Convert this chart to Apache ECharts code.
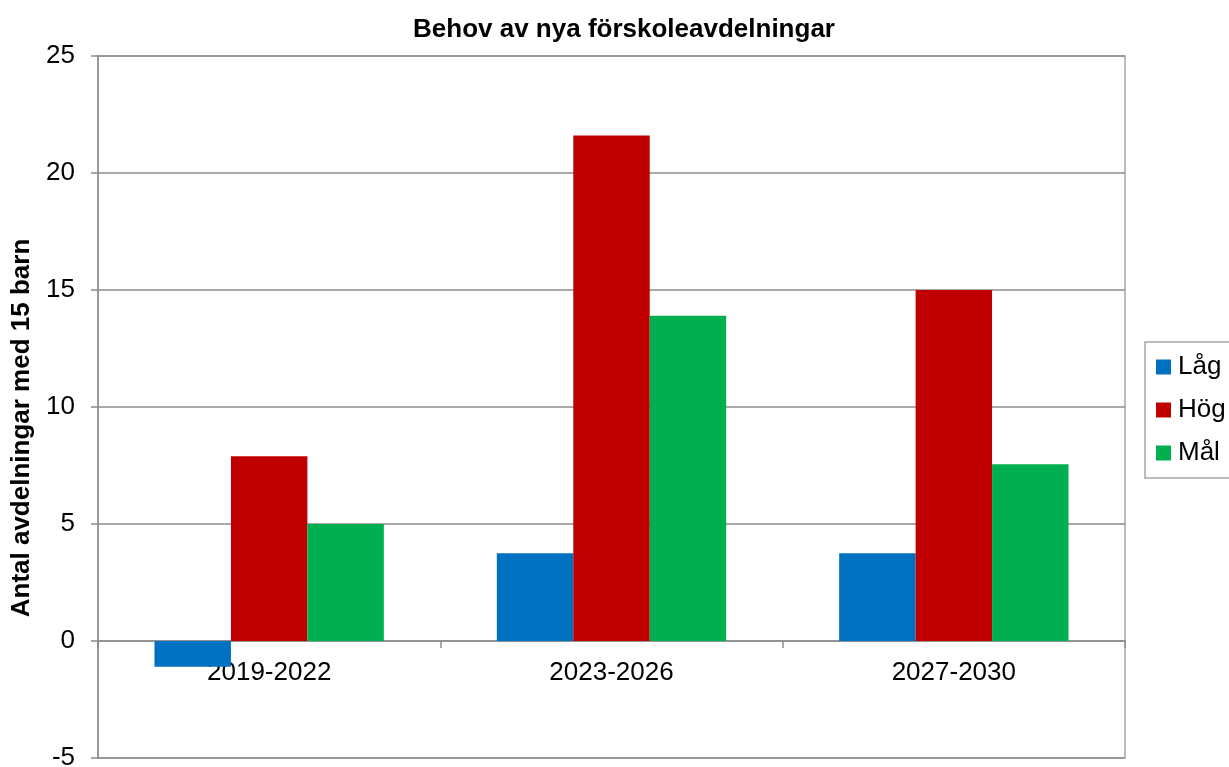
<!DOCTYPE html>
<html><head><meta charset="utf-8">
<script src="https://cdn.jsdelivr.net/npm/echarts@6/dist/echarts.min.js"></script>
<style>html,body{margin:0;padding:0;background:#fff}#c{width:1229px;height:767px}</style>
</head><body><div id="c"></div>
<script>
const categories = ['2019-2022', '2023-2026', '2027-2030'];
const seriesNames = ['Låg', 'Hög', 'Mål'];
const lagValues = [-1.1, 3.75, 3.75];
const hogValues = [7.9, 21.6, 15.0];
const malValues = [5.0, 13.9, 7.55];
const colors = ['#0070C0', '#C00000', '#00B050'];
const font = 'Liberation Sans, Arial, sans-serif';

const chart = echarts.init(document.getElementById('c'), null, {renderer: 'canvas'});
chart.setOption({
  animation: false,
  backgroundColor: '#fff',
  title: {
    text: 'Behov av nya förskoleavdelningar',
    left: 619, top: 12, textAlign: 'center',
    textStyle: {fontFamily: font, fontSize: 26, fontWeight: 'bold', color: '#000'}
  },
  legend: {
    data: seriesNames,
    orient: 'vertical',
    left: 1145, top: 342,
    padding: [12, 40, 12, 11],
    itemGap: 17,
    itemWidth: 15, itemHeight: 15,
    icon: 'rect',
    borderColor: '#a6a6a6', borderWidth: 1.5,
    textStyle: {fontFamily: font, fontSize: 26, color: '#000', padding: [0, 0, 0, 2]}
  },
  grid: {
    left: 98, right: 104, top: 56, bottom: 9,
    show: true, borderColor: '#a6a6a6', borderWidth: 1.5,
    containLabel: false, outerBoundsMode: 'none'
  },
  xAxis: {
    type: 'category',
    data: categories,
    axisLine: {onZero: true, lineStyle: {color: '#8c8c8c', width: 1.5}},
    axisTick: {show: true, length: 7, lineStyle: {color: '#8c8c8c', width: 1.5}},
    axisLabel: {fontFamily: font, fontSize: 26, color: '#000', margin: -98}
  },
  yAxis: {
    type: 'value',
    min: -5, max: 25, interval: 5,
    name: 'Antal avdelningar med 15 barn',
    nameLocation: 'middle',
    nameGap: 63,
    nameTextStyle: {fontFamily: font, fontSize: 26, fontWeight: 'bold', color: '#000', padding: [0, 42, 0, 0]},
    axisLine: {show: true, lineStyle: {color: '#8c8c8c', width: 1.5}},
    axisTick: {show: true, length: 7, lineStyle: {color: '#8c8c8c', width: 1.5}},
    splitLine: {show: true, lineStyle: {color: '#8c8c8c', width: 1.5}},
    axisLabel: {fontFamily: font, fontSize: 26, color: '#000', margin: 23}
  },
  series: [
    {name: seriesNames[0], type: 'bar', data: lagValues, itemStyle: {color: colors[0]}, barGap: '0%', barCategoryGap: '33%'},
    {name: seriesNames[1], type: 'bar', data: hogValues, itemStyle: {color: colors[1]}, barGap: '0%', barCategoryGap: '33%'},
    {name: seriesNames[2], type: 'bar', data: malValues, itemStyle: {color: colors[2]}, barGap: '0%', barCategoryGap: '33%'}
  ]
});
</script></body></html>
